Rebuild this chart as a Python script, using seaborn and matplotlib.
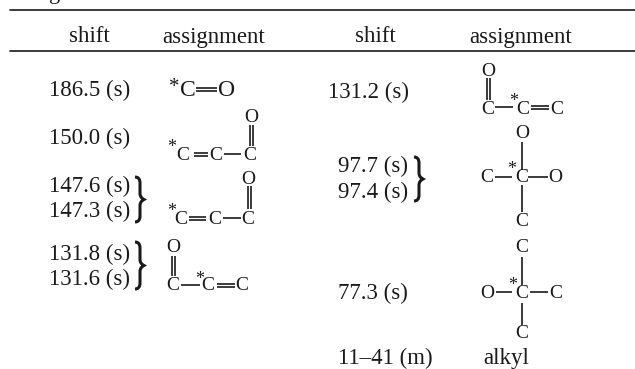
import matplotlib
matplotlib.use("Agg")
import matplotlib.pyplot as plt
from matplotlib.path import Path
from matplotlib.patches import PathPatch
import seaborn as sns

# table content
headers = ["shift", "assignment", "shift", "assignment"]
header_x = [89, 214, 375, 521]
left_shifts = ["186.5 (s)", "150.0 (s)", "147.6 (s)", "147.3 (s)", "131.8 (s)", "131.6 (s)"]
left_y = [90, 138, 186, 211, 254, 279]
right_shifts = ["131.2 (s)", "97.7 (s)", "97.4 (s)", "77.3 (s)", "11\u201341 (m)"]
right_x = [328, 338, 338, 338, 338]
right_y = [92, 166, 192, 293, 358]
brace_spans = [(135, 177, 222), (135, 242, 289), (414, 157, 201)]

# structural fragments: (label, x, y)
atoms = [
    ("*", 174, 88, 15), ("C", 188, 90, 17), ("O", 227, 90, 17),
    ("*", 172, 148, 13), ("C", 183, 155, 14), ("C", 216, 155, 14), ("C", 250, 155, 14), ("O", 251, 118, 14),
    ("*", 172, 212, 13), ("C", 181, 219, 14), ("C", 215, 219, 14), ("C", 248, 219, 14), ("O", 248, 180, 14),
    ("O", 173, 247, 14), ("C", 173, 286, 14), ("*", 200, 279, 13), ("C", 208, 286, 14), ("C", 242, 286, 14),
    ("O", 488, 71, 14), ("C", 488, 109, 14), ("*", 514, 101, 13), ("C", 523, 110, 14), ("C", 557, 110, 14),
    ("O", 522, 134, 14), ("C", 522, 178, 14), ("*", 512, 170, 13), ("C", 487, 178, 14), ("O", 555, 178, 14), ("C", 522, 222, 14),
    ("C", 522, 248, 14), ("*", 513, 285, 13), ("C", 522, 293, 14), ("O", 487, 293, 14), ("C", 556, 293, 14), ("C", 522, 334, 14),
]
# bonds: x0, y0, x1, y1
bonds = [
    (196, 87.5, 217, 87.5), (196, 91, 217, 91),
    (194, 152.5, 208, 152.5), (194, 155.5, 208, 155.5), (224, 154, 241, 154), (249.5, 125, 249.5, 146), (252.5, 125, 252.5, 146),
    (189, 217, 206, 217), (189, 220, 206, 220), (223, 218, 241, 218), (248, 186, 248, 209), (251, 186, 251, 209),
    (172, 256, 172, 276), (175, 256, 175, 276), (181, 285, 200, 285), (217, 284, 235, 284), (217, 287, 235, 287),
    (486.5, 78, 486.5, 100), (489.5, 78, 489.5, 100), (495, 107, 513, 107), (531, 106, 549, 106), (531, 109, 549, 109),
    (522, 142, 522, 170), (495, 177, 512, 177), (528, 177, 548, 177), (522, 185, 522, 212),
    (522, 257, 522, 285), (496, 292, 512, 292), (530, 292, 548, 292), (522, 303, 522, 325),
]

sns.set_theme(style="white")
serif = ["Liberation Serif", "DejaVu Serif"]
plt.rcParams["font.family"] = serif

fig = plt.figure(figsize=(6.35, 3.69), dpi=100)
ax = fig.add_axes([0, 0, 1, 1])
ax.set_xlim(0, 635)
ax.set_ylim(369, 0)
ax.axis("off")
ink = "#1a1a1a"

ax.plot([10, 635], [10, 10], color=ink, lw=1.2)
ax.plot([10, 635], [51, 51], color=ink, lw=1.2)
ax.text(55, -6, "g", fontsize=16, color=ink, ha="center", va="center", clip_on=False)

for label, x in zip(headers, header_x):
    ax.text(x, 37, label, fontsize=16.5, color=ink, ha="center", va="center")
for label, y in zip(left_shifts, left_y):
    ax.text(49, y, label, fontsize=16.5, color=ink, ha="left", va="center")
for label, x, y in zip(right_shifts, right_x, right_y):
    ax.text(x, y, label, fontsize=16.5, color=ink, ha="left", va="center")
ax.text(483, 358.5, "alkyl", fontsize=16.5, color=ink, ha="left", va="center")

for label, x, y, size in atoms:
    ax.text(x, y, label, fontsize=size, color=ink, ha="center", va="center")
for x0, y0, x1, y1 in bonds:
    ax.plot([x0, x1], [y0, y1], color=ink, lw=1.2, solid_capstyle="butt")

for x, top, bottom in brace_spans:
    mid = (top + bottom) / 2
    verts = [(x, top), (x + 5, top), (x + 5, top + 6), (x + 5, mid - 6), (x + 5, mid - 2), (x + 9, mid),
             (x + 5, mid + 2), (x + 5, mid + 6), (x + 5, bottom - 6), (x + 5, bottom), (x, bottom)]
    codes = [Path.MOVETO, Path.CURVE3, Path.CURVE3, Path.LINETO, Path.CURVE3, Path.CURVE3,
             Path.CURVE3, Path.CURVE3, Path.LINETO, Path.CURVE3, Path.CURVE3]
    ax.add_patch(PathPatch(Path(verts, codes), fc="none", ec=ink, lw=2.2))

fig.savefig("out.png", dpi=100)
